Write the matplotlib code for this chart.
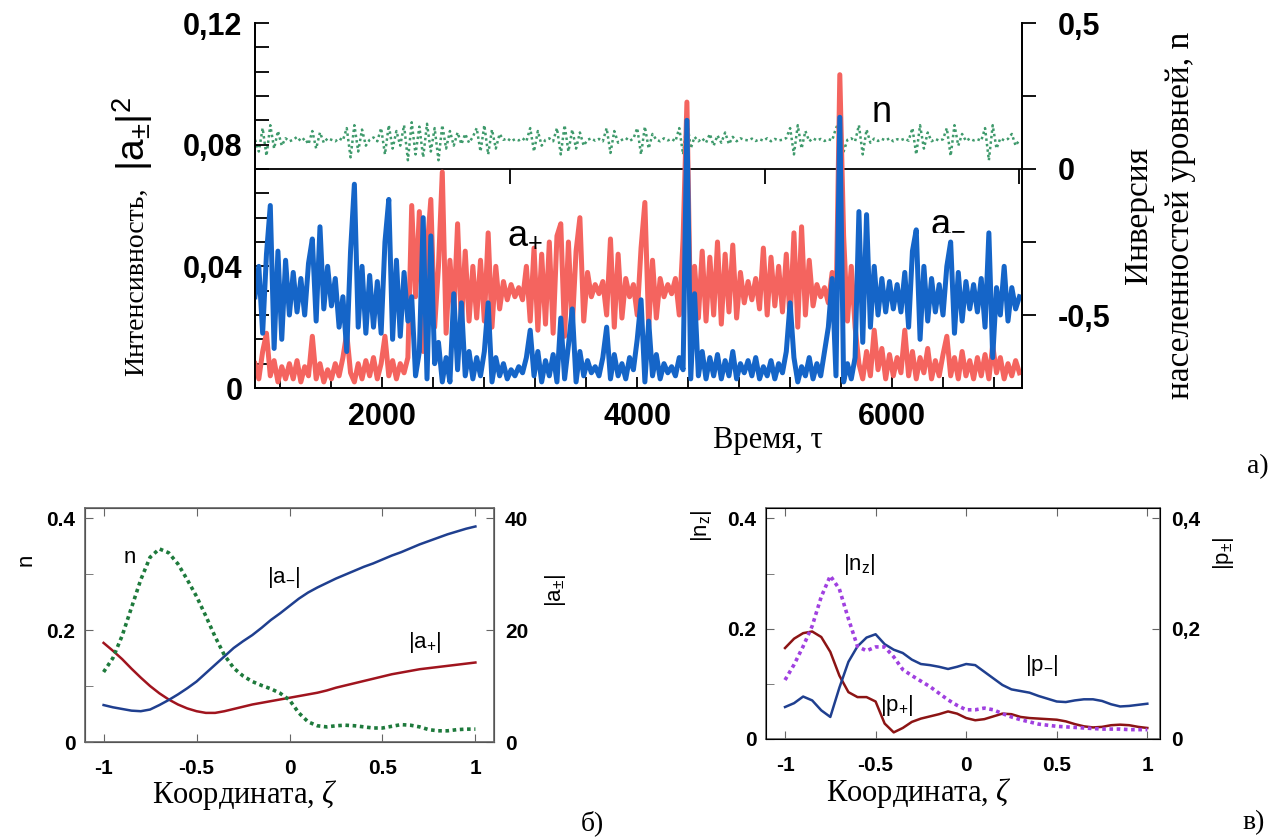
import numpy as np
import matplotlib
matplotlib.use("Agg")
import matplotlib.pyplot as plt
from matplotlib.ticker import FixedLocator, MultipleLocator

plt.rcParams["font.family"] = "Liberation Sans"
plt.rcParams["mathtext.fontset"] = "custom"
plt.rcParams["mathtext.rm"] = "Liberation Sans"
plt.rcParams["mathtext.sf"] = "Liberation Sans"
plt.rcParams["mathtext.it"] = "Liberation Serif:italic"
plt.rcParams["mathtext.bf"] = "Liberation Sans:bold"

W, H = 1284, 839

# -------------------------
# panel a): time series, tau = 1000 ... 7000 step 30
# -------------------------
tau = np.arange(1000, 7001, 30)

a_minus = [
    0.030, 0.040, 0.018, 0.044, 0.060, 0.013, 0.045, 0.016, 0.042, 0.024,  # 1000
    0.038, 0.025, 0.036, 0.024, 0.041, 0.049, 0.022, 0.053, 0.026, 0.040,  # 1300
    0.027, 0.036, 0.020, 0.030, 0.012, 0.045, 0.067, 0.020, 0.040, 0.018,  # 1600
    0.037, 0.020, 0.035, 0.018, 0.048, 0.062, 0.016, 0.042, 0.017, 0.038,  # 1900
    0.022, 0.030, 0.004, 0.012, 0.056, 0.003, 0.050, 0.008, 0.015, 0.002,  # 2200
    0.010, 0.002, 0.031, 0.006, 0.028, 0.004, 0.012, 0.003, 0.010, 0.004,  # 2500
    0.012, 0.028, 0.002, 0.010, 0.004, 0.008, 0.003, 0.006, 0.004, 0.007,  # 2800
    0.005, 0.010, 0.019, 0.004, 0.012, 0.002, 0.009, 0.004, 0.011, 0.002,  # 3100
    0.023, 0.003, 0.014, 0.026, 0.002, 0.012, 0.004, 0.009, 0.005, 0.007,  # 3400
    0.004, 0.010, 0.020, 0.003, 0.011, 0.004, 0.008, 0.003, 0.010, 0.006,  # 3700
    0.016, 0.029, 0.002, 0.022, 0.004, 0.011, 0.003, 0.008, 0.005, 0.007,  # 4000
    0.004, 0.010, 0.006, 0.088, 0.003, 0.031, 0.004, 0.012, 0.003, 0.010,  # 4300
    0.004, 0.011, 0.003, 0.009, 0.004, 0.012, 0.003, 0.008, 0.005, 0.009,  # 4600
    0.004, 0.010, 0.003, 0.007, 0.004, 0.009, 0.003, 0.008, 0.005, 0.012,  # 4900
    0.028, 0.010, 0.002, 0.007, 0.004, 0.010, 0.003, 0.008, 0.004, 0.012,  # 5200
    0.020, 0.036, 0.004, 0.089, 0.002, 0.008, 0.003, 0.010, 0.058, 0.015,  # 5500
    0.057, 0.020, 0.040, 0.024, 0.036, 0.025, 0.035, 0.026, 0.034, 0.025,  # 5800
    0.038, 0.020, 0.045, 0.052, 0.016, 0.040, 0.022, 0.036, 0.025, 0.034,  # 6100
    0.024, 0.040, 0.048, 0.018, 0.038, 0.022, 0.035, 0.026, 0.034, 0.025,  # 6400
    0.036, 0.020, 0.051, 0.010, 0.033, 0.024, 0.040, 0.022, 0.033, 0.026,  # 6700
    0.030,
]

a_plus = [
    0.008, 0.003, 0.012, 0.018, 0.004, 0.009, 0.002, 0.007, 0.003, 0.008,  # 1000
    0.003, 0.009, 0.002, 0.007, 0.004, 0.017, 0.003, 0.008, 0.002, 0.006,  # 1300
    0.003, 0.008, 0.004, 0.010, 0.018, 0.005, 0.002, 0.008, 0.003, 0.009,  # 1600
    0.004, 0.010, 0.003, 0.008, 0.017, 0.004, 0.009, 0.003, 0.008, 0.005,  # 1900
    0.010, 0.060, 0.030, 0.058, 0.012, 0.045, 0.062, 0.020, 0.040, 0.071,  # 2200
    0.018, 0.042, 0.024, 0.054, 0.021, 0.045, 0.022, 0.040, 0.023, 0.042,  # 2500
    0.022, 0.051, 0.020, 0.040, 0.026, 0.035, 0.029, 0.034, 0.030, 0.033,  # 2800
    0.029, 0.040, 0.022, 0.046, 0.019, 0.044, 0.021, 0.048, 0.018, 0.050,  # 3100
    0.054, 0.017, 0.048, 0.020, 0.045, 0.056, 0.022, 0.038, 0.030, 0.034,  # 3400
    0.031, 0.035, 0.024, 0.049, 0.020, 0.044, 0.023, 0.036, 0.030, 0.034,  # 3700
    0.024, 0.046, 0.061, 0.020, 0.042, 0.023, 0.036, 0.030, 0.034, 0.031,  # 4000
    0.036, 0.024, 0.049, 0.094, 0.019, 0.040, 0.023, 0.045, 0.022, 0.043,  # 4300
    0.024, 0.048, 0.021, 0.044, 0.025, 0.047, 0.023, 0.038, 0.028, 0.035,  # 4600
    0.029, 0.036, 0.026, 0.046, 0.024, 0.043, 0.027, 0.040, 0.025, 0.044,  # 4900
    0.022, 0.051, 0.020, 0.053, 0.024, 0.042, 0.027, 0.034, 0.030, 0.033,  # 5200
    0.028, 0.038, 0.024, 0.103, 0.050, 0.022, 0.040, 0.020, 0.008, 0.003,  # 5500
    0.012, 0.004, 0.019, 0.006, 0.013, 0.003, 0.011, 0.004, 0.010, 0.005,  # 5800
    0.019, 0.004, 0.012, 0.003, 0.010, 0.005, 0.013, 0.003, 0.009, 0.004,  # 6100
    0.011, 0.017, 0.004, 0.010, 0.003, 0.012, 0.004, 0.009, 0.003, 0.010,  # 6400
    0.004, 0.011, 0.003, 0.014, 0.005, 0.010, 0.003, 0.008, 0.004, 0.009,  # 6700
    0.005,
]

n_tau = [
    0.100, 0.060, 0.140, 0.045, 0.150, 0.070, 0.130, 0.080, 0.105, 0.095,  # 1000
    0.100, 0.110, 0.095, 0.105, 0.085, 0.130, 0.070, 0.125, 0.090, 0.105,  # 1300
    0.100, 0.095, 0.105, 0.098, 0.140, 0.040, 0.150, 0.060, 0.135, 0.080,  # 1600
    0.100, 0.108, 0.095, 0.140, 0.050, 0.150, 0.070, 0.130, 0.080, 0.150,  # 1900
    0.030, 0.160, 0.050, 0.145, 0.040, 0.155, 0.060, 0.140, 0.030, 0.150,  # 2200
    0.070, 0.130, 0.080, 0.125, 0.085, 0.120, 0.090, 0.110, 0.140, 0.060,  # 2500
    0.150, 0.050, 0.135, 0.070, 0.120, 0.100, 0.105, 0.095, 0.102, 0.098,  # 2800
    0.105, 0.095, 0.140, 0.060, 0.130, 0.080, 0.100, 0.105, 0.095, 0.140,  # 3100
    0.050, 0.150, 0.060, 0.135, 0.070, 0.125, 0.080, 0.100, 0.105, 0.097,  # 3400
    0.103, 0.095, 0.140, 0.055, 0.130, 0.090, 0.100, 0.106, 0.096, 0.104,  # 3700
    0.140, 0.050, 0.145, 0.070, 0.120, 0.100, 0.095, 0.105, 0.098, 0.103,  # 4000
    0.095, 0.140, 0.050, 0.170, 0.070, 0.110, 0.095, 0.105, 0.090, 0.120,  # 4300
    0.080, 0.115, 0.090, 0.125, 0.085, 0.110, 0.095, 0.105, 0.100, 0.098,  # 4600
    0.104, 0.096, 0.102, 0.097, 0.105, 0.095, 0.103, 0.098, 0.100, 0.106,  # 4900
    0.140, 0.050, 0.150, 0.070, 0.130, 0.095, 0.105, 0.098, 0.103, 0.096,  # 5200
    0.102, 0.098, 0.140, 0.165, 0.060, 0.100, 0.105, 0.095, 0.150, 0.050,  # 5500
    0.135, 0.090, 0.104, 0.096, 0.103, 0.098, 0.105, 0.095, 0.102, 0.099,  # 5800
    0.104, 0.097, 0.140, 0.050, 0.150, 0.070, 0.125, 0.095, 0.103, 0.097,  # 6100
    0.102, 0.140, 0.045, 0.150, 0.080, 0.120, 0.096, 0.104, 0.098, 0.102,  # 6400
    0.097, 0.140, 0.030, 0.150, 0.070, 0.105, 0.098, 0.103, 0.120, 0.080,  # 6700
    0.100,
]

# -------------------------
# panels б) and в): profiles along zeta
# -------------------------
zeta = np.linspace(-1, 1, 41)

b_a_minus = [6.6, 6.2, 5.9, 5.6, 5.5, 5.8, 6.6, 7.5, 8.5, 9.6, 10.8, 12.3, 13.8,
             15.3, 16.8, 18.0, 19.1, 20.4, 21.8, 23.0, 24.3, 25.6, 26.7, 27.6,
             28.4, 29.2, 29.9, 30.6, 31.3, 31.9, 32.6, 33.3, 33.9, 34.6, 35.3,
             35.9, 36.5, 37.1, 37.6, 38.1, 38.5]
b_a_plus = [17.7, 16.3, 14.8, 13.1, 11.5, 10.0, 8.7, 7.6, 6.7, 6.0, 5.5, 5.2, 5.2,
            5.5, 5.9, 6.3, 6.7, 7.0, 7.3, 7.6, 7.9, 8.2, 8.5, 8.8, 9.2, 9.7, 10.1,
            10.5, 10.9, 11.3, 11.7, 12.1, 12.4, 12.7, 13.0, 13.2, 13.4, 13.6,
            13.8, 14.0, 14.2]
b_n = [0.125, 0.150, 0.190, 0.240, 0.290, 0.330, 0.345, 0.338, 0.318, 0.290,
       0.260, 0.225, 0.188, 0.155, 0.132, 0.118, 0.108, 0.101, 0.095, 0.087,
       0.075, 0.052, 0.036, 0.029, 0.027, 0.029, 0.030, 0.029, 0.027, 0.025,
       0.025, 0.028, 0.031, 0.030, 0.027, 0.022, 0.020, 0.020, 0.022, 0.023,
       0.023]

c_p_minus = [0.058, 0.065, 0.077, 0.070, 0.052, 0.040, 0.093, 0.140, 0.168, 0.184,
             0.190, 0.172, 0.162, 0.156, 0.144, 0.136, 0.134, 0.131, 0.127, 0.131,
             0.136, 0.134, 0.122, 0.110, 0.098, 0.090, 0.087, 0.084, 0.078, 0.073,
             0.068, 0.067, 0.070, 0.072, 0.072, 0.069, 0.063, 0.059, 0.060, 0.062,
             0.064]
c_p_plus = [0.165, 0.182, 0.192, 0.195, 0.185, 0.158, 0.115, 0.085, 0.076, 0.076,
            0.068, 0.028, 0.012, 0.020, 0.031, 0.037, 0.041, 0.045, 0.050, 0.046,
            0.038, 0.034, 0.036, 0.041, 0.046, 0.045, 0.040, 0.038, 0.037, 0.036,
            0.035, 0.032, 0.027, 0.023, 0.021, 0.022, 0.025, 0.026, 0.025, 0.022,
            0.020]
c_nz = [0.107, 0.135, 0.168, 0.205, 0.258, 0.296, 0.272, 0.218, 0.168, 0.160,
        0.167, 0.167, 0.149, 0.126, 0.115, 0.105, 0.095, 0.083, 0.071, 0.061,
        0.053, 0.053, 0.056, 0.053, 0.046, 0.040, 0.035, 0.031, 0.027, 0.025,
        0.023, 0.022, 0.021, 0.020, 0.019, 0.018, 0.018, 0.018, 0.017, 0.017,
        0.017]


def bold_ticks(ax):
    for lbl in ax.get_xticklabels() + ax.get_yticklabels():
        lbl.set_fontweight("bold")


def fig_text(x, y, s, **kw):
    fig.text(x / W, 1 - y / H, s, ha="center", va="center", **kw)


fig = plt.figure(figsize=(12.84, 8.39), dpi=100)

# ---- a) ----
ax = fig.add_axes([255 / W, 1 - 388 / H, (1022 - 255) / W, (388 - 23) / H])
ax2 = ax.twinx()

ax2.plot(tau, n_tau, color="#3f9a6c", lw=1.8, ls=(0, (1, 1.2)))
ax2.axhline(0, color="black", lw=1.3)
ax2.vlines([1000, 3000, 5000, 7000], -0.05, 0, color="black", lw=1.3)

ax.plot(tau, a_plus, color="#f4645f", lw=3.6)
ax.plot(tau, a_minus, color="#1565c8", lw=3.6)
ax.set_zorder(ax2.get_zorder() + 1)
ax.patch.set_visible(False)

ax.set_xlim(1000, 7020)
ax.set_ylim(0, 0.12)
ax2.set_ylim(-0.75, 0.5)

ax.set_xticks([2000, 4000, 6000], ["2000", "4000", "6000"])
ax.xaxis.set_minor_locator(MultipleLocator(400))
ax.set_yticks([0, 0.04, 0.08, 0.12], ["0", "0,04", "0,08", "0,12"])
ax.yaxis.set_minor_locator(MultipleLocator(0.008))
ax.tick_params(axis="x", which="both", direction="in", length=8, width=1.3,
               pad=10, labelsize=22)
ax.tick_params(axis="y", which="both", direction="in", length=10, width=1.3,
               pad=9, labelsize=22)
ax2.set_yticks([-0.5, 0, 0.5], ["-0,5", "0", "0,5"])
ax2.yaxis.set_minor_locator(FixedLocator([-0.25, 0.25]))
ax2.tick_params(axis="y", which="both", direction="out", length=10, width=1.3,
                pad=16, labelsize=22)
for a in (ax, ax2):
    a.spines["top"].set_visible(False)
    for s in ("left", "right", "bottom"):
        a.spines[s].set_linewidth(1.3)
bold_ticks(ax)
bold_ticks(ax2)

ax.text(2980, 0.047, r"a$_{+}$", fontsize=26, ha="left", va="baseline")
ax.text(6300, 0.052, r"a$_{-}$", fontsize=26, ha="left", va="baseline")
ax.text(5840, 0.0875, "n", fontsize=26, ha="left", va="baseline")

fig_text(137, 282, "Интенсивность,", family="Liberation Serif", size=20, rotation=90)
fig_text(133, 134, r"$|\mathrm{a}_{\pm}|^{2}$", size=28, rotation=90)
fig_text(1160, 215, "Инверсия\nнаселенностей уровней, n", family="Liberation Serif",
         size=24, rotation=90, linespacing=1.5, multialignment="center")
fig_text(768, 440, "Время, τ", family="Liberation Serif", size=22)
fig_text(1258, 467, "а)", family="Liberation Serif", size=20)


def style_small(a, b):
    for s in a.spines.values():
        s.set_color("#666666")
        s.set_linewidth(1.2)
    a.set_xticks([-1, -0.5, 0, 0.5, 1], ["-1", "-0.5", "0", "0.5", "1"])
    a.tick_params(axis="x", which="both", direction="in", length=6, color="#666666",
                  top=True, pad=12, labelsize=15)
    a.tick_params(axis="y", which="both", direction="in", length=6, color="#666666",
                  pad=7, labelsize=15)
    b.tick_params(axis="y", which="both", direction="in", length=6, color="#666666",
                  pad=8, labelsize=15)
    a.yaxis.set_minor_locator(FixedLocator([0.1, 0.3]))
    bold_ticks(a)
    bold_ticks(b)


# ---- б) ----
axb = fig.add_axes([85 / W, 1 - 742 / H, (494 - 85) / W, (742 - 508) / H])
axb2 = axb.twinx()
axb2.plot(zeta, b_a_plus, color="#a0141e", lw=1.8)
axb2.plot(zeta, b_a_minus, color="#1f3f8f", lw=1.8)
axb.plot(zeta, b_n, color="#1e7a3c", lw=2.6, ls=(0, (1, 1)))
axb.set_zorder(axb2.get_zorder() + 1)
axb.patch.set_visible(False)
axb.set_xlim(-1.1, 1.1)
axb.set_ylim(0, 0.418)
axb2.set_ylim(0, 41.8)
axb.set_yticks([0, 0.2, 0.4], ["0", "0.2", "0.4"])
axb2.set_yticks([0, 20, 40], ["0", "20", "40"])
style_small(axb, axb2)
axb.text(-0.86, 0.33, "n", fontsize=16, ha="center", va="center")
axb.text(-0.03, 0.293, r"$|\mathrm{a}_{-}|$", fontsize=16, ha="center", va="center")
axb.text(0.727, 0.178, r"$|\mathrm{a}_{+}|$", fontsize=16, ha="center", va="center")
fig_text(26, 560, "n", size=16, rotation=90)
fig_text(556, 590, r"$|\mathrm{a}_{\pm}|$", size=16, rotation=90)
fig_text(245, 795, r"Координата, $\zeta$", family="Liberation Serif", size=22)
fig_text(592, 823, "б)", family="Liberation Serif", size=20)

# ---- в) ----
axc = fig.add_axes([766 / W, 1 - 739 / H, (1160 - 766) / W, (739 - 508) / H])
axc2 = axc.twinx()
axc.plot(zeta, c_p_plus, color="#8c1414", lw=1.8)
axc.plot(zeta, c_p_minus, color="#1f3f8f", lw=1.8)
axc.plot(zeta, c_nz, color="#a040e0", lw=2.6, ls=(0, (1, 1)))
axc.set_xlim(-1.105, 1.07)
axc.set_ylim(0, 0.419)
axc2.set_ylim(0, 0.419)
axc.set_yticks([0, 0.2, 0.4], ["0", "0.2", "0.4"])
axc2.set_yticks([0, 0.2, 0.4], ["0", "0,2", "0,4"])
style_small(axc, axc2)
axc.text(-0.59, 0.316, r"$|\mathrm{n}_{\mathrm{z}}|$", fontsize=16, ha="center", va="center")
axc.text(0.417, 0.133, r"$|\mathrm{p}_{-}|$", fontsize=16, ha="center", va="center")
axc.text(-0.383, 0.061, r"$|\mathrm{p}_{+}|$", fontsize=16, ha="center", va="center")
fig_text(702, 526, r"$|\mathrm{n}_{\mathrm{z}}|$", size=16, rotation=90)
fig_text(1224, 553, r"$|\mathrm{p}_{\pm}|$", size=16, rotation=90)
fig_text(919, 793, r"Координата, $\zeta$", family="Liberation Serif", size=22)
fig_text(1254, 823, "в)", family="Liberation Serif", size=20)

fig.savefig("out.png", dpi=100)
